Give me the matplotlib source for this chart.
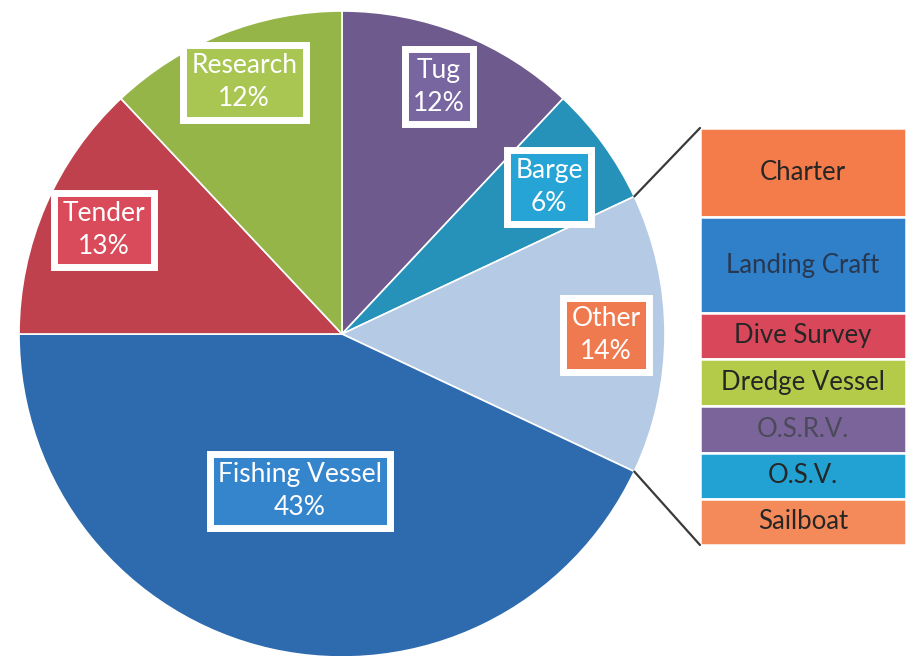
import numpy as np
import matplotlib.pyplot as plt
from matplotlib.patches import ConnectionPatch

plt.rcParams['font.family'] = ['Lato', 'DejaVu Sans']

# pie slices, clockwise from 12 o'clock
pie_labels = ['Tug', 'Barge', 'Other', 'Fishing Vessel', 'Tender', 'Research']
pie_values = [12, 6, 14, 43, 13, 12]
pie_colors = ['#6E5A8C', '#2792B9', '#B5CAE5', '#2D6BAE', '#BE414D', '#95B548']
box_colors = ['#7766A0', '#27A4D6', '#F07A50', '#3585CC', '#D94A5A', '#A9C653']

# breakdown of "Other", top to bottom
bar_labels = ['Charter', 'Landing Craft', 'Dive Survey', 'Dredge Vessel',
              'O.S.R.V.', 'O.S.V.', 'Sailboat']
bar_values = [3.0, 3.2, 1.55, 1.6, 1.55, 1.55, 1.55]
bar_colors = ['#F47B4A', '#2F7FC9', '#D9475A', '#B3CB48', '#7A6499', '#22A2D3', '#F4895A']
bar_text = ['#262626', '#283850', '#262626', '#262626', '#4a4a5a', '#262626', '#262626']

fig = plt.figure(figsize=(9.13, 6.56), dpi=100)

# ---- pie ----
cx, cy, r = 342, 334, 323
ax = fig.add_axes([(cx - r) / 913, (656 - cy - r) / 656, 2 * r / 913, 2 * r / 656])
wedges, _ = ax.pie(pie_values, colors=pie_colors, startangle=90, counterclock=False,
                   wedgeprops=dict(edgecolor='white', linewidth=1.2))
ax.set_xlim(-1, 1)
ax.set_ylim(-1, 1)
ax.set_aspect('auto')
ax.axis('off')

# label centres (relative to radius)
label_pos = [(0.300, 0.765), (0.641, 0.455), (0.817, -0.003),
             (-0.130, -0.486), (-0.737, 0.322), (-0.303, 0.780)]
for name, val, (lx, ly), bc in zip(pie_labels, pie_values, label_pos, box_colors):
    ax.text(lx, ly, f'{name}\n{val}%', ha='center', va='center', color='white',
            fontsize=19, linespacing=1.4,
            bbox=dict(boxstyle='square,pad=0.32', fc=bc, ec='white', lw=5))

# ---- bar of "Other" ----
bx = fig.add_axes([700 / 913, (656 - 545) / 656, 206 / 913, 417 / 656])
bottoms = np.concatenate([[0], np.cumsum(bar_values)[:-1]])
bx.bar(0, bar_values, bottom=bottoms, width=1, color=bar_colors,
       edgecolor='white', linewidth=1.8)
for name, b, v, tc in zip(bar_labels, bottoms, bar_values, bar_text):
    bx.text(0, b + v / 2, name, ha='center', va='center', fontsize=18.5, color=tc)
total = sum(bar_values)
bx.set_xlim(-0.5, 0.5)
bx.set_ylim(total, 0)
bx.axis('off')

# connector lines from the "Other" slice edges to the bar corners
i_other = pie_labels.index('Other')
a_top = np.deg2rad(90 - 360 * sum(pie_values[:i_other]) / 100)
a_bot = np.deg2rad(90 - 360 * sum(pie_values[:i_other + 1]) / 100)
for ang, yb in [(a_top, 0), (a_bot, total)]:
    con = ConnectionPatch(xyA=(np.cos(ang), np.sin(ang)), coordsA=ax.transData,
                          xyB=(-0.5, yb), coordsB=bx.transData,
                          color='#3a3a3a', lw=1.6)
    fig.add_artist(con)

fig.savefig('out.png', dpi=100)
